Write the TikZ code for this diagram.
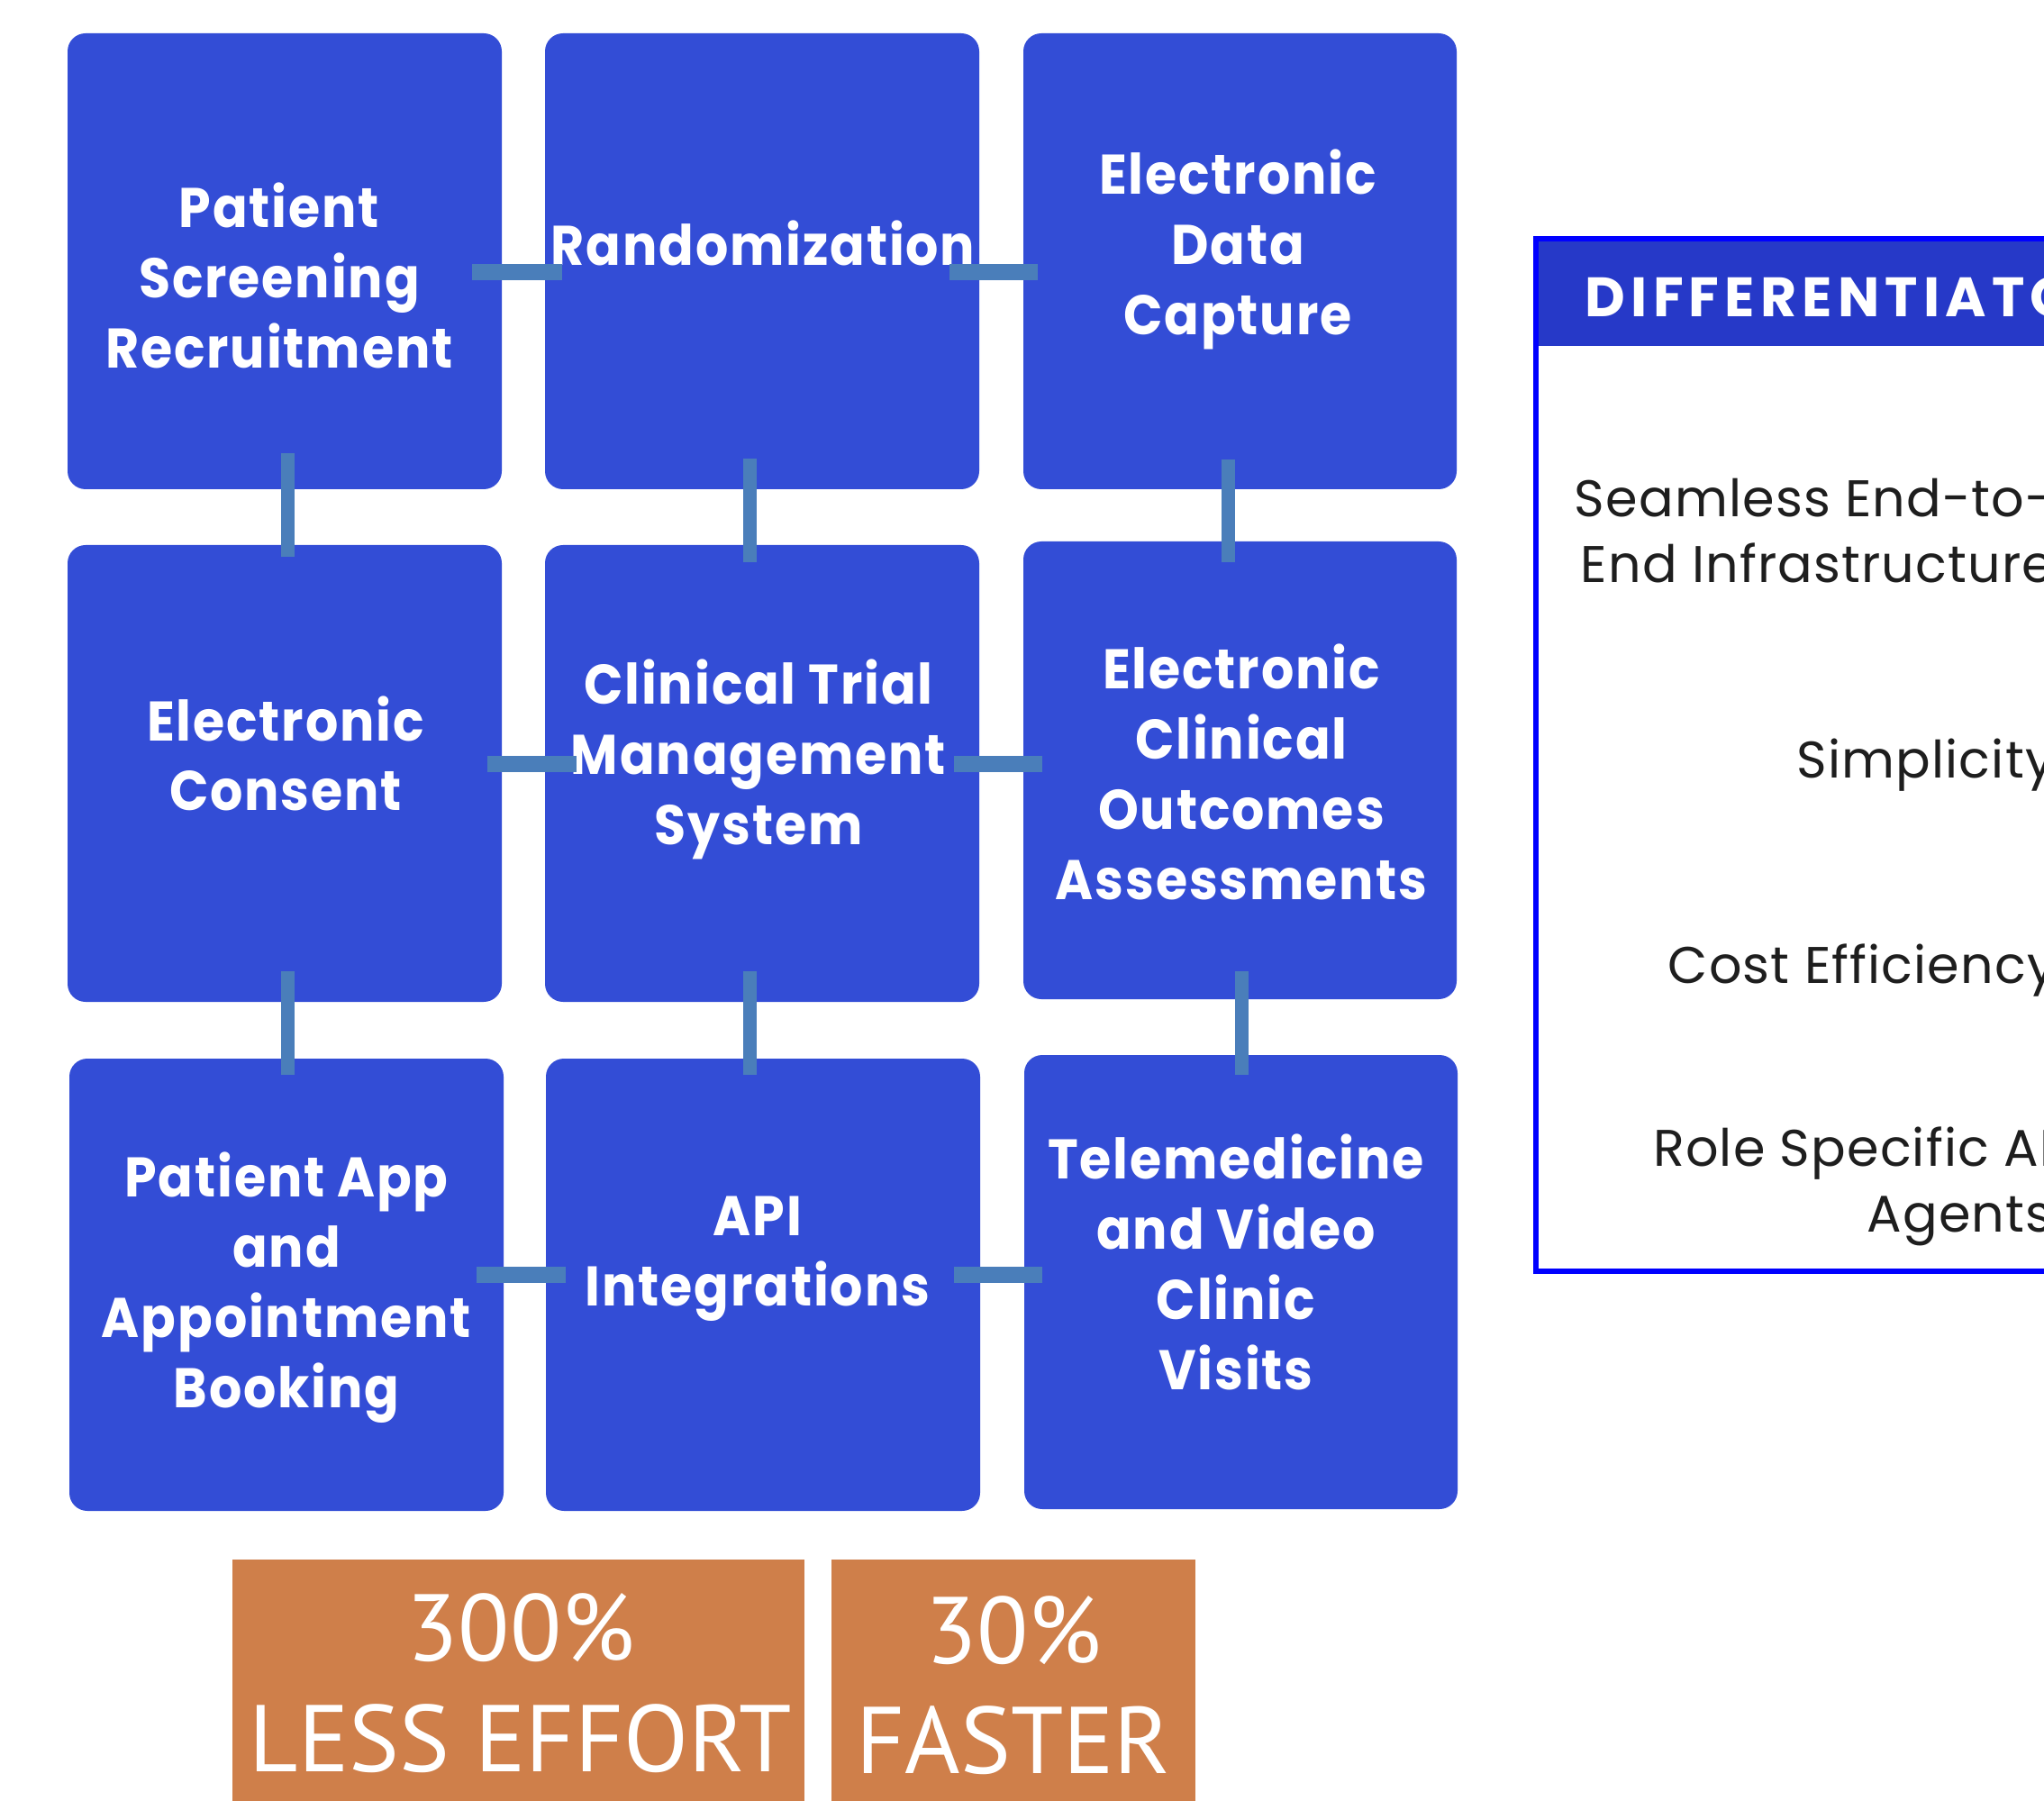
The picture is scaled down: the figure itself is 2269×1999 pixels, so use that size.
\documentclass[tikz,border=0pt]{standalone}
\usepackage{fontspec}
\usetikzlibrary{calc}
\newfontfamily\lblfont{Poppins}[LetterSpace=3, FakeStretch=0.92]
\newfontfamily\difffont{Poppins}[LetterSpace=2]
\newfontfamily\headfont{Poppins}[LetterSpace=10]
\newfontfamily\statfont{PT Sans}
\definecolor{boxblue}{RGB}{51,77,214}
\definecolor{connblue}{RGB}{74,126,186}
\definecolor{headblue}{RGB}{38,57,200}
\definecolor{edgeblue}{RGB}{0,0,255}
\definecolor{statorange}{RGB}{207,127,74}
\definecolor{difftext}{RGB}{30,30,30}
\newcommand\blkbox[5]{\node[blk, minimum width={(#4-#2)*0.25pt}, minimum height={(#5-#3)*0.25pt}] (#1) at ({(#2+#4)/2},{(#3+#5)/2}) {};}
\tikzset{
  blk/.style={fill=boxblue, rounded corners=5pt, inner sep=0pt, draw=none},
  lbl/.style={anchor=base, align=center, text=white, inner sep=0pt, font=\lblfont\bfseries\fontsize{15.5}{19.5}\selectfont},
  hconn/.style={draw=connblue, line width=4.5pt},
  vconn/.style={draw=connblue, line width=3.75pt},
  difftxt/.style={anchor=base east, align=right, text=difftext, inner sep=0pt, font=\difffont\fontsize{14.3}{18.25}\selectfont},
  statbox/.style={fill=statorange, inner sep=0pt, draw=none},
  stattxt/.style={anchor=base, text=white, inner sep=0pt, font=\statfont\fontsize{26.3}{30}\selectfont},
}
\begin{document}
\begin{tikzpicture}[x=0.25pt, y=-0.25pt]
\useasboundingbox (0,0) rectangle (2269,1999);
\clip (0,0) rectangle (2269,1999);
\fill[white] (0,0) rectangle (2269,1999);

% boxes
\blkbox{r1b1}{75}{37}{557}{543}
\blkbox{r1b2}{605}{37}{1087}{543}
\blkbox{r1b3}{1136}{37}{1617}{543}
\blkbox{r2b1}{75}{605}{557}{1112}
\blkbox{r2b2}{605}{605}{1087}{1112}
\blkbox{r2b3}{1136}{601}{1617}{1109}
\blkbox{r3b1}{77}{1175}{559}{1677}
\blkbox{r3b2}{606}{1175}{1088}{1677}
\blkbox{r3b3}{1137}{1171}{1618}{1675}

% labels (anchor = baseline of the last line)
\node[lbl] (t11) at (310,409) {Patient\\Screening\\Recruitment};
\node[lbl] (t12) at (847,295) {Randomization};
\node[lbl] (t13) at (1374,372) {Electronic\\Data\\Capture};
\node[lbl] (t21) at (317,900) {Electronic\\Consent};
\node[lbl] (t22) at (842,937) {Clinical Trial\\Management\\System};
\node[lbl] (t23) at (1378,998) {Electronic\\Clinical\\Outcomes\\Assessments};
\node[lbl] (t31) at (318,1562) {Patient App\\and\\Appointment\\Booking};
\node[lbl] (t32) at (841,1449) {API\\Integrations};
\node[lbl] (t33) at (1372,1542) {Telemedicine\\and Video\\Clinic\\Visits};

% connectors
\draw[hconn] ($(r1b1.east)+(-34,12)$) -- ($(r1b2.west)+(20,12)$);
\draw[hconn] ($(r1b2.east)+(-34,12)$) -- ($(r1b3.west)+(17,12)$);
\draw[vconn] ($(r1b1.south)+(3,-41)$) -- ($(r2b1.north)+(3,14)$);
\draw[vconn] ($(r1b2.south)+(-14,-35)$) -- ($(r2b2.north)+(-14,20)$);
\draw[vconn] ($(r1b3.south)+(-13.5,-34)$) -- ($(r2b3.north)+(-13.5,24)$);
\draw[hconn] ($(r2b1.east)+(-17,-10.5)$) -- ($(r2b2.west)+(36,-10.5)$);
\draw[hconn] ($(r2b2.east)+(-29,-10.5)$) -- ($(r2b3.west)+(22,-7)$);
\draw[vconn] ($(r2b1.south)+(3,-35)$) -- ($(r3b1.north)+(1,19)$);
\draw[vconn] ($(r2b2.south)+(-14,-35)$) -- ($(r3b2.north)+(-15,19)$);
\draw[vconn] ($(r2b3.south)+(1.5,-32)$) -- ($(r3b3.north)+(0.5,23)$);
\draw[hconn] ($(r3b1.east)+(-31,-11)$) -- ($(r3b2.west)+(23,-11)$);
\draw[hconn] ($(r3b2.east)+(-30,-11)$) -- ($(r3b3.west)+(21,-8)$);

% differentiators panel
\fill[headblue] (1705,265) rectangle (2400,384);
\draw[edgeblue, line width=1.5pt] (1705,265) rectangle (2400,1411);
\node[anchor=base west, text=white, inner sep=0pt, font=\headfont\bfseries\fontsize{15.4}{18}\selectfont] (head) at (1759,352) {DIFFERENTIATORS};
\node[difftxt] (d1) at (2281,647) {Seamless End-to-\\End Infrastructure};
\node[difftxt] (d2) at (2281,863) {Simplicity};
\node[difftxt] (d3) at (2283,1091) {Cost Efficiency};
\node[difftxt] (d4) at (2279,1367) {Role Specific AI\\Agents};

% stats
\node[statbox, minimum width={635*0.25pt}, minimum height={268*0.25pt}] (s1) at (575.5,1865) {};
\node[statbox, minimum width={404*0.25pt}, minimum height={268*0.25pt}] (s2) at (1125,1865) {};
\node[stattxt] (s1a) at (578,1843) {300\%};
\node[stattxt] (s1b) at (578,1966) {LESS EFFORT};
\node[stattxt] (s2a) at (1125,1846) {30\%};
\node[stattxt] (s2b) at (1125,1968) {FASTER};
\end{tikzpicture}
\end{document}
